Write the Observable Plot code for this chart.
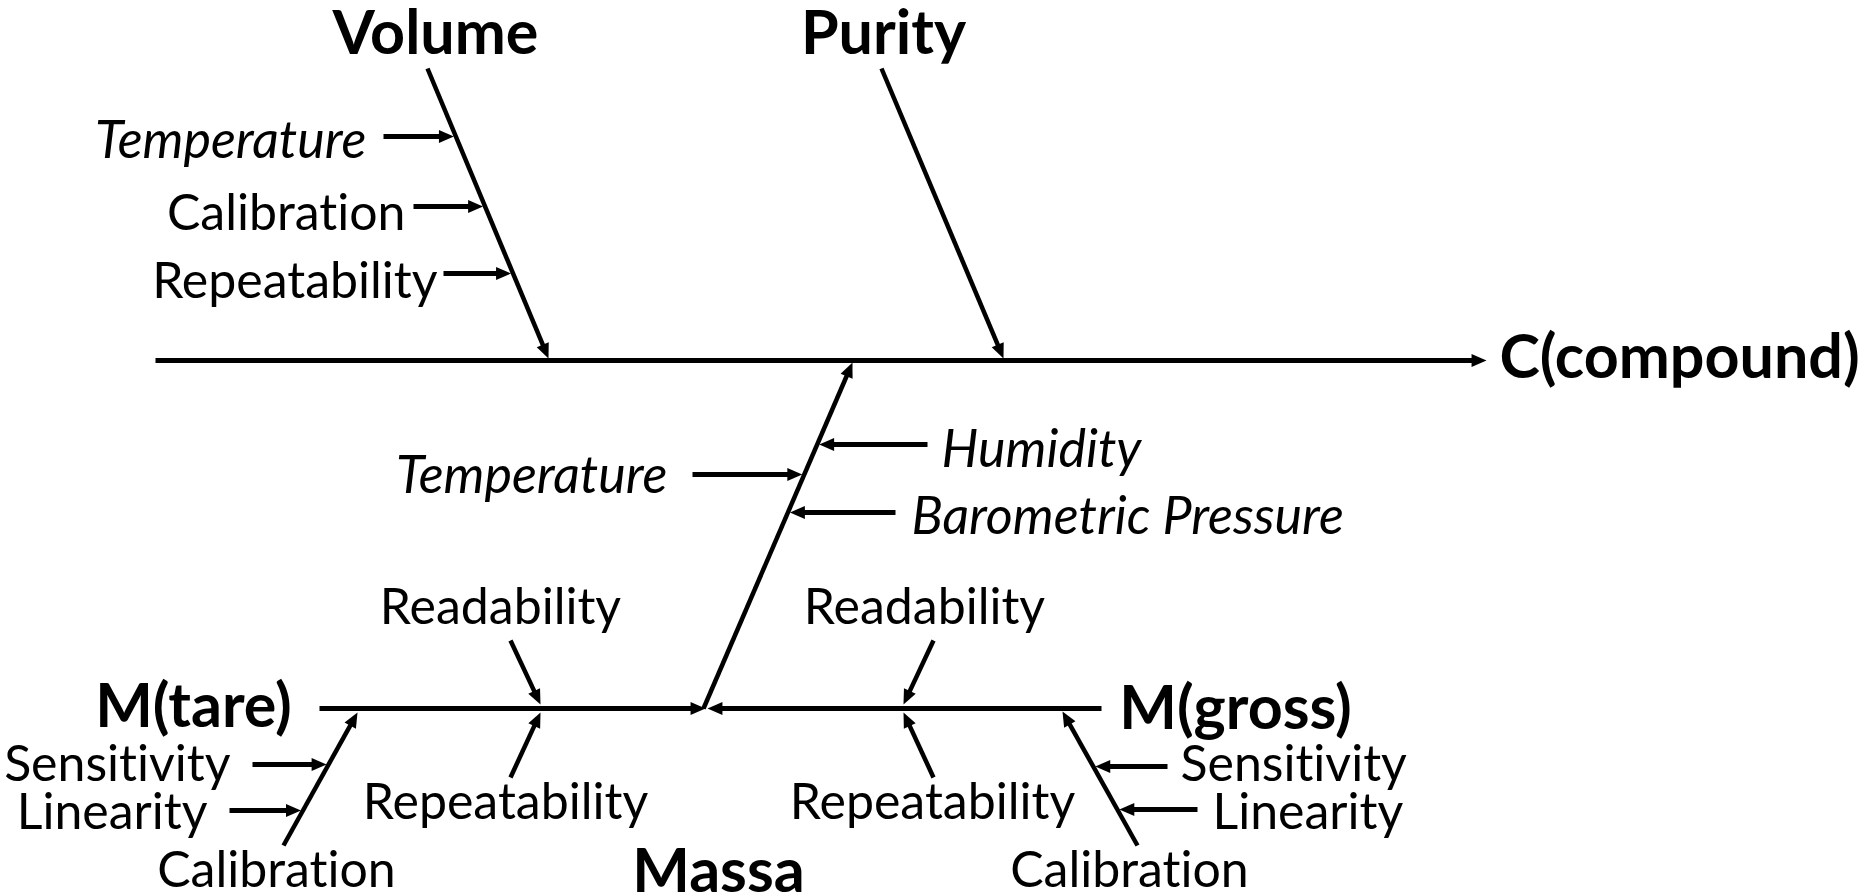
<!DOCTYPE html>
<html><head><meta charset="utf-8">
<script src="https://cdn.jsdelivr.net/npm/d3@7"></script>
<script src="https://cdn.jsdelivr.net/npm/@observablehq/plot@0.6"></script>
<style>html,body{margin:0;padding:0;background:#fff;overflow:hidden}
svg text{font-variant-ligatures:none;font-feature-settings:"liga" 0,"dlig" 0,"clig" 0}</style>
</head><body><div id="chart"></div>
<script>
// ---------- data: names of the fishbone (cause & effect) diagram ----------
const effect = "C(compound)";
const mainCauses = ["Volume", "Purity", "Massa"];
const volumeFactors = ["Temperature", "Calibration", "Repeatability"];
const massaFactors = ["Humidity", "Temperature", "Barometric Pressure"];
const weighings = ["M(tare)", "M(gross)"];
const weighingFactors = ["Readability", "Repeatability"];
const balanceFactors = ["Sensitivity", "Linearity", "Calibration"];
const italicFactors = ["Temperature", "Humidity", "Barometric Pressure"];

// ---------- layout geometry (diagram units, y downward) ----------
const spine = {x1: 155, y1: 360, x2: 1486, y2: 360};
const bones = {
  "Volume": {x1: 427, y1: 68, x2: 548, y2: 358},
  "Purity": {x1: 881, y1: 68, x2: 1003, y2: 358},
  "Massa": {x1: 703, y1: 708, x2: 852, y2: 362},
  "M(tare)": {x1: 319, y1: 708, x2: 705, y2: 708},
  "M(gross)": {x1: 1101, y1: 708, x2: 707, y2: 708},
  "M(tare) balance": {x1: 283, y1: 845, x2: 357, y2: 712},
  "M(gross) balance": {x1: 1137, y1: 845, x2: 1062, y2: 711}
};
// horizontal factor arrows: bone, y level, start x
const volumeArrowY = [136, 206, 273], volumeArrowX0 = [383, 413, 443];
const massaArrowY = [444, 474, 512], massaArrowX0 = [927, 692, 895];
const tareBalY = [764, 810], tareBalX0 = [252, 229];
const grossBalY = [766, 809], grossBalX0 = [1167, 1197];
// weighing factor arrows (above / below the weighing lines)
const weighingArrowPos = {
  "M(tare)": [{x1: 510, y1: 640, x2: 540, y2: 704}, {x1: 510, y1: 777, x2: 540, y2: 712}],
  "M(gross)": [{x1: 933, y1: 640, x2: 903, y2: 704}, {x1: 933, y1: 777, x2: 903, y2: 712}]
};

// ---------- build arrows ----------
const arrows = [];
const xAt = (b, y) => b.x1 + (y - b.y1) * (b.x2 - b.x1) / (b.y2 - b.y1);
arrows.push({...spine, sw: 5});
for (const k of Object.keys(bones)) arrows.push({...bones[k], sw: k.startsWith("M(") && !k.includes("balance") ? 5 : 4.5});
function horiz(bone, ys, x0s) {
  ys.forEach((y, i) => {
    const bx = xAt(bone, y);
    const fromLeft = x0s[i] < bx;
    arrows.push({x1: x0s[i], y1: y, x2: bx + (fromLeft ? -2 : 2), y2: y, sw: 5});
  });
}
horiz(bones["Volume"], volumeArrowY, volumeArrowX0);
horiz(bones["Massa"], massaArrowY, massaArrowX0);
horiz(bones["M(tare) balance"], tareBalY, tareBalX0);
horiz(bones["M(gross) balance"], grossBalY, grossBalX0);
for (const w of weighings) for (const a of weighingArrowPos[w]) arrows.push({...a, sw: 4.5});

const HEAD = 6.5; // r of head symbol
const headLen = 2.3 * HEAD;
const shafts = arrows.map(a => {
  const L = Math.hypot(a.x2 - a.x1, a.y2 - a.y1);
  const ux = (a.x2 - a.x1) / L, uy = (a.y2 - a.y1) / L;
  return {x1: a.x1, y1: a.y1, x2: a.x2 - ux * headLen * 0.6, y2: a.y2 - uy * headLen * 0.6, sw: a.sw};
});
const heads = arrows.map(a => ({x: a.x2, y: a.y2,
  angle: Math.atan2(a.x2 - a.x1, -(a.y2 - a.y1)) * 180 / Math.PI}));
const arrowHead = {
  draw(ctx, size) {
    const k = Math.sqrt(size / Math.PI);
    ctx.moveTo(0, 0);
    ctx.lineTo(-k, 2.3 * k);
    ctx.lineTo(k, 2.3 * k);
    ctx.closePath();
  }
};

// ---------- labels ----------
const labels = [
  {text: effect, x: 1499, y: 358, anchor: "start", style: "bold"},
  {text: mainCauses[0], x: 435, y: 34, anchor: "middle", style: "bold"},
  {text: mainCauses[1], x: 883, y: 34, anchor: "middle", style: "bold"},
  {text: mainCauses[2], x: 718, y: 872, anchor: "middle", style: "bold"},
  {text: weighings[0], x: 193, y: 707, anchor: "middle", style: "bold"},
  {text: weighings[1], x: 1235, y: 709, anchor: "middle", style: "bold"},
  {text: volumeFactors[0], x: 366, y: 141, anchor: "end"},
  {text: volumeFactors[1], x: 405, y: 213, anchor: "end"},
  {text: volumeFactors[2], x: 437, y: 281, anchor: "end"},
  {text: massaFactors[0], x: 941, y: 450, anchor: "start"},
  {text: massaFactors[1], x: 667, y: 476, anchor: "end"},
  {text: massaFactors[2], x: 911, y: 517, anchor: "start"},
  {text: weighingFactors[0], x: 500, y: 607, anchor: "middle"},
  {text: weighingFactors[1], x: 505, y: 802, anchor: "middle"},
  {text: weighingFactors[0], x: 924, y: 607, anchor: "middle"},
  {text: weighingFactors[1], x: 932, y: 802, anchor: "middle"},
  {text: balanceFactors[0], x: 230, y: 764, anchor: "end"},
  {text: balanceFactors[1], x: 207, y: 812, anchor: "end"},
  {text: balanceFactors[2], x: 276, y: 870, anchor: "middle"},
  {text: balanceFactors[0], x: 1180, y: 764, anchor: "start"},
  {text: balanceFactors[1], x: 1212, y: 812, anchor: "start"},
  {text: balanceFactors[2], x: 1129, y: 870, anchor: "middle"}
].map(d => ({...d, style: d.style || (italicFactors.includes(d.text) ? "italic" : "regular")}));

const FONT = "Lato, 'Open Sans', sans-serif";
const styles = {
  bold: {fontWeight: "bold", fontStyle: "normal", fontSize: 61},
  regular: {fontWeight: "normal", fontStyle: "normal", fontSize: 50},
  italic: {fontWeight: "normal", fontStyle: "italic", fontSize: 52}
};
const textMarks = [];
for (const s of Object.keys(styles)) for (const an of ["start", "middle", "end"]) {
  const sub = labels.filter(d => d.style === s && d.anchor === an);
  if (!sub.length) continue;
  textMarks.push(Plot.text(sub, {x: "x", y: "y", text: "text", textAnchor: an,
    fontFamily: FONT, fill: "black", lineAnchor: "middle", ...styles[s]}));
}

const chart = Plot.plot({
  width: 1867, height: 896,
  margin: 0,
  x: {domain: [0, 1867], range: [0, 1867], axis: null},
  y: {domain: [0, 896], range: [0, 896], axis: null},
  style: {background: "white"},
  marks: [
    Plot.link(shafts, {x1: "x1", y1: "y1", x2: "x2", y2: "y2", stroke: "black", strokeWidth: "sw"}),
    Plot.dot(heads, {x: "x", y: "y", rotate: "angle", symbol: arrowHead, r: HEAD, fill: "black", stroke: "none"}),
    ...textMarks
  ]
});
document.getElementById("chart").appendChild(chart);
</script>
</body></html>
